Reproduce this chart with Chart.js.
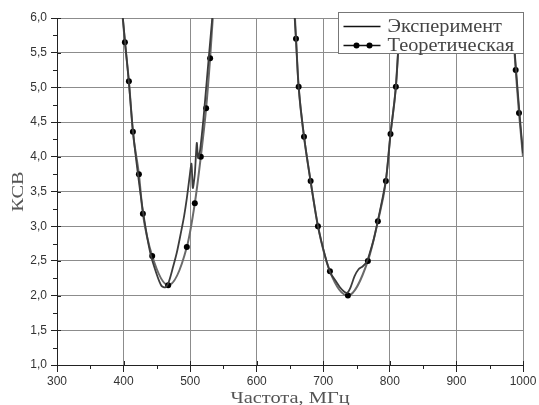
<!DOCTYPE html>
<html>
<head>
<meta charset="utf-8">
<script src="https://cdn.jsdelivr.net/npm/chart.js@4"></script>
<style>
  html, body { margin: 0; padding: 0; background: #fff; }
  #wrap { width: 539px; height: 405px; position: relative; }
</style>
</head>
<body>
<div id="wrap"><canvas id="vswr"></canvas></div>
<script>
// Measured VSWR over frequency, null breaks the line between resonances
const expFreq = [396, 402, 408, 414, 422, 430, 440, 450, 457, 463, 468, 474, 480, 486, 491, 495, 499, 502, 504, 507, 510, 512, 515, 520, 525, 530, 536,
                 600,
                 655, 659, 663, 671, 681, 692, 703, 711, 718, 725, 731, 736, 741, 747, 753, 759, 765, 770, 776, 782, 794, 801, 809, 817,
                 900,
                 982, 985, 990, 995, 1000];
const expVswr = [6.3, 5.68, 5.07, 4.38, 3.72, 3.16, 2.62, 2.3, 2.14, 2.12, 2.2, 2.4, 2.62, 2.9, 3.15, 3.4, 3.7, 3.9, 3.55, 3.75, 4.2, 3.98, 4.1, 4.55, 5.1, 5.65, 6.3,
                 null,
                 6.3, 5.7, 5.0, 4.3, 3.64, 3.0, 2.56, 2.32, 2.22, 2.12, 2.06, 2.04, 2.12, 2.28, 2.38, 2.42, 2.48, 2.62, 2.82, 3.08, 3.66, 4.33, 5.0, 6.3,
                 null,
                 6.3, 5.85, 5.2, 4.6, 4.05];

// Calculated VSWR (dots are the computed points)
const theoFreq = [396, 402, 408, 414, 423, 429, 443, 467, 495, 507, 516, 524, 530, 536,
                  600,
                  656, 659, 663, 671, 681, 692, 710, 737, 767, 782, 794, 801, 809, 817,
                  900,
                  982, 989, 994, 1000];
const theoVswr = [6.3, 5.65, 5.09, 4.36, 3.75, 3.18, 2.57, 2.15, 2.7, 3.33, 4.0, 4.7, 5.42, 6.3,
                  null,
                  6.3, 5.7, 5.01, 4.29, 3.65, 3.0, 2.35, 2.0, 2.5, 3.07, 3.65, 4.33, 5.01, 6.3,
                  null,
                  6.3, 5.25, 4.63, 4.0];

const seriesNames = ['Эксперимент', 'Теоретическая'];
const xTitle = 'Частота, МГц';
const yTitle = 'КСВ';

const toPoints = (xs, ys) => xs.map((x, i) => ({ x, y: ys[i] }));
const serif = '"Liberation Serif", serif';

// draws text squeezed/stretched horizontally by sx
function wideText(ctx, text, x, y, sx) {
  ctx.save();
  ctx.translate(x, y);
  ctx.scale(sx, 1);
  ctx.fillText(text, 0, 0);
  ctx.restore();
}

// short minor ticks and the inner half of the major ticks
const axisTicks = {
  id: 'axisTicks',
  afterDraw(chart) {
    const { ctx, chartArea, scales } = chart;
    ctx.save();
    ctx.strokeStyle = '#222';
    ctx.lineWidth = 1;
    ctx.beginPath();
    for (let f = 300; f <= 1000; f += 50) {
      const px = Math.round(scales.x.getPixelForValue(f)) + 0.5;
      if (f % 100) {
        ctx.moveTo(px, chartArea.bottom);
        ctx.lineTo(px, chartArea.bottom + 4);
      } else {
        ctx.moveTo(px, chartArea.bottom - 4);
        ctx.lineTo(px, chartArea.bottom);
      }
    }
    for (let v = 1; v <= 6.001; v += 0.25) {
      const py = Math.round(scales.y.getPixelForValue(v)) + 0.5;
      if (Math.round(v * 4) % 2) {
        ctx.moveTo(chartArea.left - 4, py);
        ctx.lineTo(chartArea.left, py);
      } else {
        ctx.moveTo(chartArea.left, py);
        ctx.lineTo(chartArea.left + 4, py);
      }
    }
    ctx.stroke();
    ctx.restore();
  }
};

// axis captions in a wide serif face
const axisTitles = {
  id: 'axisTitles',
  afterDraw(chart) {
    const { ctx, chartArea } = chart;
    ctx.save();
    ctx.fillStyle = '#555';
    ctx.font = '17px ' + serif;
    ctx.textBaseline = 'alphabetic';
    const sx = 1.2;
    const xw = ctx.measureText(xTitle).width * sx;
    wideText(ctx, xTitle, (chartArea.left + chartArea.right) / 2 - xw / 2, 403, sx);
    ctx.translate(23, (chartArea.top + chartArea.bottom) / 2);
    ctx.rotate(-Math.PI / 2);
    const yw = ctx.measureText(yTitle).width * sx;
    wideText(ctx, yTitle, -yw / 2, 0, sx);
    ctx.restore();
  }
};

// framed legend in the upper right corner, over the plot
const legendBox = {
  id: 'legendBox',
  afterDraw(chart) {
    const { ctx, chartArea } = chart;
    const w = 185, h = 41;
    const x0 = chartArea.right - w + 0.5, y0 = chartArea.top - 5.5;
    ctx.save();
    ctx.fillStyle = '#fff';
    ctx.fillRect(x0, y0, w, h);
    ctx.strokeStyle = '#777';
    ctx.lineWidth = 1;
    ctx.strokeRect(x0, y0, w, h);
    ctx.font = '18px ' + serif;
    ctx.textBaseline = 'alphabetic';
    chart.data.datasets.forEach((ds, i) => {
      const cy = Math.round(y0 + 13 + i * 19) + 0.5;
      ctx.strokeStyle = '#111';
      ctx.lineWidth = 1.6;
      ctx.beginPath();
      ctx.moveTo(x0 + 5, cy);
      ctx.lineTo(x0 + 42, cy);
      ctx.stroke();
      if (i === 1) {
        ctx.fillStyle = '#000';
        [x0 + 18, x0 + 31].forEach(cx => {
          ctx.beginPath();
          ctx.arc(cx, cy, 3, 0, Math.PI * 2);
          ctx.fill();
        });
      }
      ctx.fillStyle = '#444';
      wideText(ctx, ds.label, x0 + 49, cy + 5, 1.13);
    });
    ctx.restore();
  }
};

new Chart(document.getElementById('vswr'), {
  type: 'line',
  data: {
    datasets: [
      {
        label: seriesNames[0],
        data: toPoints(expFreq, expVswr),
        borderColor: '#3c3c3c',
        borderWidth: 1.8,
        pointRadius: 0,
        tension: 0.25
      },
      {
        label: seriesNames[1],
        data: toPoints(theoFreq, theoVswr),
        borderColor: '#6a6a6a',
        borderWidth: 2,
        cubicInterpolationMode: 'monotone',
        pointRadius: ctx => (ctx.raw && (ctx.raw.y > 6 || ctx.raw.x >= 1000)) ? 0 : 3,
        pointBackgroundColor: '#000',
        pointBorderWidth: 0
      }
    ]
  },
  options: {
    responsive: true,
    maintainAspectRatio: false,
    animation: false,
    layout: { padding: { left: 0, right: 16, top: 18, bottom: 0 } },
    plugins: { legend: { display: false }, tooltip: { enabled: false } },
    scales: {
      x: {
        type: 'linear',
        min: 300, max: 1000,
        afterFit: s => { s.height = 40; },
        ticks: {
          stepSize: 100, padding: 2, color: '#333',
          font: { family: '"Liberation Sans", Arial', size: 12 },
          callback: v => String(v)
        },
        grid: { color: '#8c8c8c', tickColor: '#222', tickLength: 7 },
        border: { color: '#222', width: 1 }
      },
      y: {
        min: 1, max: 6,
        afterFit: s => { s.width = 57; },
        ticks: {
          stepSize: 0.5, padding: 4, color: '#333',
          font: { family: '"Liberation Sans", Arial', size: 12 },
          callback: v => v.toFixed(1).replace('.', ',')
        },
        grid: { color: '#8c8c8c', tickColor: '#222', tickLength: 6 },
        border: { color: '#222', width: 1 }
      }
    }
  },
  plugins: [axisTicks, axisTitles, legendBox]
});
</script>
</body>
</html>
